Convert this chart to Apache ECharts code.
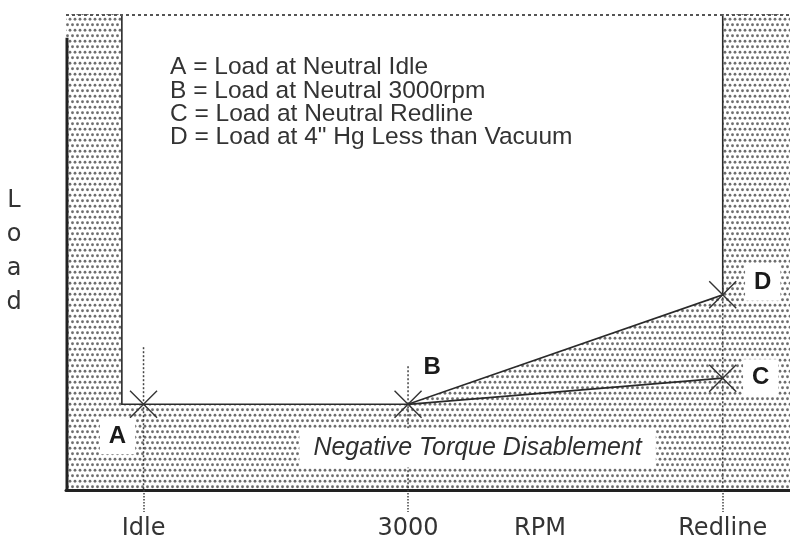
<!DOCTYPE html>
<html><head><meta charset="utf-8">
<script src="https://cdn.jsdelivr.net/npm/echarts@6/dist/echarts.min.js"></script>
<style>html,body{margin:0;background:#fff}#c{width:790px;height:544px}</style>
</head><body><div id="c"></div>
<script>
// ---- data ----
const rpmTickLabels = ['Idle', '3000', 'Redline'];
const rpmTickValues = [680, 3000, 5760];
const guideTops = [30, 26, 43];           // load where each dotted guide ends
const pointNames = ['A', 'B', 'C', 'D'];
const pointRpm = [680, 3000, 5760, 5760];
const pointLoad = [18, 18, 23.5, 41];
const clearZoneRpm = [490, 5760];          // left / right edge of the unshaded zone
const clearZoneTop = 100;
const legendLines = [
  'A = Load at Neutral Idle',
  'B = Load at Neutral 3000rpm',
  'C = Load at Neutral Redline',
  'D = Load at 4" Hg Less than Vacuum'
];
const regionLabel = 'Negative Torque Disablement';
const regionLabelPos = [3610, 8.8];
const rpmMin = 0, rpmMax = 6350, loadMin = 0, loadMax = 100;
const leftAxisTop = 95;

// ---- stipple pattern ----
function makeStipple() {
  const c = document.createElement('canvas');
  c.width = 10; c.height = 11;
  const g = c.getContext('2d');
  g.fillStyle = '#fff'; g.fillRect(0, 0, 10, 11);
  g.fillStyle = '#6e6e6e';
  [[2.5, 2.75], [7.5, 2.75], [0, 8.25], [5, 8.25], [10, 8.25]].forEach(([x, y]) => {
    g.beginPath(); g.arc(x, y, 1.4, 0, Math.PI * 2); g.fill();
  });
  return c;
}
const stipple = makeStipple();

const chart = echarts.init(document.getElementById('c'));
const lineColor = '#2a2a2a';

chart.setOption({
  animation: false,
  backgroundColor: '#fff',
  grid: { left: 66, right: 0, top: 14, bottom: 54, containLabel: false, outerBoundsMode: 'none' },
  xAxis: {
    type: 'value', min: rpmMin, max: rpmMax, z: 10,
    splitLine: { show: false },
    axisLine: { lineStyle: { color: '#222', width: 3 } },
    axisTick: { customValues: rpmTickValues, length: 22, lineStyle: { type: 'dotted', color: '#444', width: 1.5 } },
    axisLabel: {
      customValues: rpmTickValues,
      formatter: v => rpmTickLabels[rpmTickValues.indexOf(v)],
      fontSize: 24, fontFamily: 'DejaVu Sans', color: '#333', margin: 27
    },
    name: 'RPM', nameLocation: 'middle', nameGap: 27, nameMoveOverlap: false,
    nameTextStyle: { fontSize: 24, fontFamily: 'DejaVu Sans', color: '#333', padding: [0, 0, 0, 224], verticalAlign: 'top' }
  },
  yAxis: {
    type: 'value', min: loadMin, max: loadMax,
    axisLine: { show: false }, axisTick: { show: false }, axisLabel: { show: false }, splitLine: { show: false },
    name: 'L\no\na\nd', nameLocation: 'middle', nameRotate: 0, nameGap: 52, nameMoveOverlap: false,
    nameTextStyle: { fontSize: 24, lineHeight: 34, fontFamily: 'DejaVu Sans', color: '#333', align: 'center', verticalAlign: 'middle', padding: [0, 0, 8, 0] }
  },
  graphic: [{
    type: 'text', left: 170, top: 55, z: 20,
    style: { text: legendLines.join('\n'), font: '24.5px "Liberation Sans", Arial', lineHeight: 23.3, fill: '#333' }
  }],
  series: [
    {
      type: 'custom', silent: true, clip: false, z: 1,
      data: [[0]],
      renderItem(params, api) {
        const tl = api.coord([rpmMin, loadMax]), br = api.coord([rpmMax, loadMin]);
        const a = api.coord([clearZoneRpm[0], clearZoneTop]);
        const b = api.coord([clearZoneRpm[1], clearZoneTop]);
        const aBot = api.coord([clearZoneRpm[0], pointLoad[0]]);
        const B = api.coord([pointRpm[1], pointLoad[1]]);
        const C = api.coord([pointRpm[2], pointLoad[2]]);
        const D = api.coord([pointRpm[3], pointLoad[3]]);
        const axTop = api.coord([rpmMin, leftAxisTop]), axBot = api.coord([rpmMin, loadMin]);
        return {
          type: 'group', children: [
            { type: 'rect', shape: { x: tl[0], y: tl[1], width: br[0] - tl[0], height: br[1] - tl[1] },
              style: { fill: { image: stipple, repeat: 'repeat' } } },
            { type: 'polygon', shape: { points: [a, b, D, B, aBot] }, style: { fill: '#fff' } },
            { type: 'polyline', shape: { points: [a, aBot, B, D, b] }, style: { stroke: lineColor, lineWidth: 1.6, fill: null } },
            { type: 'line', shape: { x1: B[0], y1: B[1], x2: C[0], y2: C[1] }, style: { stroke: lineColor, lineWidth: 1.8 } },
            { type: 'line', shape: { x1: tl[0], y1: tl[1] + 1, x2: br[0], y2: tl[1] + 1 }, style: { stroke: '#555', lineWidth: 2, lineDash: [3, 3] } },
            { type: 'line', shape: { x1: axTop[0] + 1, y1: axTop[1], x2: axBot[0] + 1, y2: axBot[1] }, style: { stroke: '#222', lineWidth: 3 } }
          ]
        };
      }
    },
    {
      type: 'custom', silent: true, clip: false, z: 3,
      data: rpmTickValues.map((v, i) => [v, guideTops[i]]),
      renderItem(params, api) {
        const top = api.coord([api.value(0), api.value(1)]);
        const bot = api.coord([api.value(0), loadMin]);
        return { type: 'line', shape: { x1: top[0], y1: top[1], x2: bot[0], y2: bot[1] },
          style: { stroke: '#444', lineWidth: 1.5, lineDash: [2, 2] } };
      }
    },
    {
      type: 'scatter', silent: true, z: 5,
      symbol: 'path://M0,0L10,10M10,0L0,10', symbolSize: 27,
      itemStyle: { color: 'rgba(0,0,0,0)', borderColor: '#333', borderWidth: 1.4, opacity: 1 },
      label: {
        show: true, formatter: '{b}', position: 'inside',
        fontSize: 24, fontWeight: 'bold', fontFamily: '"Liberation Sans", Arial', color: '#1a1a1a',
        backgroundColor: '#fff', padding: [6, 9]
      },
      data: pointNames.map((n, i) => {
        const offsets = { A: [-26, 32], B: [24, -37], C: [38, -1], D: [40, -12] };
        return { name: n, value: [pointRpm[i], pointLoad[i]],
          label: { offset: offsets[n], backgroundColor: n === 'B' ? 'transparent' : '#fff' } };
      })
    },
    {
      type: 'scatter', silent: true, z: 6, symbolSize: 0,
      itemStyle: { opacity: 1 },
      label: {
        show: true, formatter: '{b}', position: 'inside',
        fontSize: 25, fontStyle: 'italic', fontFamily: '"Liberation Sans", Arial', color: '#2e2e2e',
        backgroundColor: '#fff', padding: [7, 14]
      },
      data: [{ name: regionLabel, value: regionLabelPos }]
    }
  ]
});
</script></body></html>
